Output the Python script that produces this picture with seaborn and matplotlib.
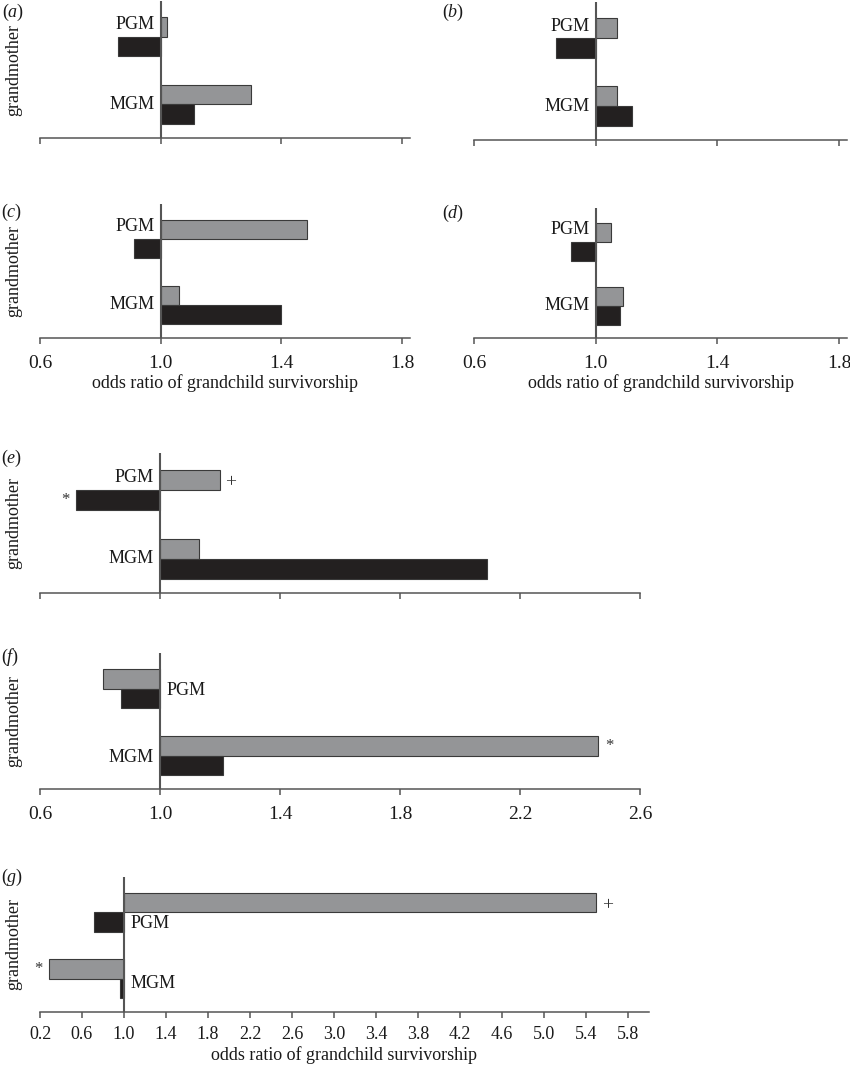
import numpy as np
import pandas as pd
import matplotlib
matplotlib.use('Agg')
import matplotlib.pyplot as plt
import seaborn as sns

sns.set_style('white')
plt.rcParams['font.family'] = ['Liberation Serif', 'DejaVu Serif']
plt.rcParams['mathtext.fontset'] = 'custom'
plt.rcParams['mathtext.rm'] = 'Liberation Serif'
plt.rcParams['mathtext.it'] = 'Liberation Serif:italic'

# categories and the two bar series (grey on top, black below)
grandmothers = ['PGM', 'MGM']
series = ['grey', 'black']
colours = {'grey': '#939598', 'black': '#231f20'}

# odds ratios, order [PGM, MGM]
a_grey, a_black = [1.02, 1.30], [0.86, 1.11]
b_grey, b_black = [1.07, 1.07], [0.87, 1.12]
c_grey, c_black = [1.485, 1.06], [0.91, 1.40]
d_grey, d_black = [1.05, 1.09], [0.92, 1.08]
e_grey, e_black = [1.20, 1.13], [0.72, 2.09]
f_grey, f_black = [0.81, 2.46], [0.87, 1.21]
g_grey, g_black = [5.50, 0.29], [0.71, 0.96]

# significance marks (grandmother, series, symbol)
e_marks = [('PGM', 'grey', '+'), ('PGM', 'black', '*')]
f_marks = [('MGM', 'grey', '*')]
g_marks = [('PGM', 'grey', '+'), ('MGM', 'grey', '*')]

ticks_short = [0.6, 1.0, 1.4, 1.8]
ticks_mid = [0.6, 1.0, 1.4, 1.8, 2.2, 2.6]
ticks_long = [0.2, 0.6, 1.0, 1.4, 1.8, 2.2, 2.6, 3.0, 3.4, 3.8, 4.2, 4.6, 5.0, 5.4, 5.8]

xlab = 'odds ratio of grandchild survivorship'
axis_col = '#555555'

W, H = 850, 1067
fig = plt.figure(figsize=(W / 100, H / 100), dpi=100)

# box = (left, top, right, bottom) in pixels; names = (side, shift down px) per grandmother
panels = [
    dict(tag='a', grey=a_grey, black=a_black, box=(40, 1, 410, 138), xlim=(0.6, 1.826),
         ticks=ticks_short, labels=False, xlabel=False, ylabel=True,
         names=[('L', -12), ('L', 0)], marks=[], tagpos=(2, 12)),
    dict(tag='b', grey=b_grey, black=b_black, box=(474, 2, 847, 140), xlim=(0.6, 1.826),
         ticks=ticks_short, labels=False, xlabel=False, ylabel=False,
         names=[('L', -12), ('L', 0)], marks=[], tagpos=(442, 12)),
    dict(tag='c', grey=c_grey, black=c_black, box=(40, 204, 410, 338), xlim=(0.6, 1.826),
         ticks=ticks_short, labels=True, xlabel=True, ylabel=True,
         names=[('L', -12), ('L', 0)], marks=[], tagpos=(1, 212)),
    dict(tag='d', grey=d_grey, black=d_black, box=(474, 208, 847, 338), xlim=(0.6, 1.826),
         ticks=ticks_short, labels=True, xlabel=True, ylabel=False,
         names=[('L', -12), ('L', 0)], marks=[], tagpos=(442, 213)),
    dict(tag='e', grey=e_grey, black=e_black, box=(40, 453, 640, 593), xlim=(0.6, 2.6),
         ticks=ticks_mid, labels=False, xlabel=False, ylabel=True,
         names=[('L', -12), ('L', 0)], marks=e_marks, tagpos=(1, 458)),
    dict(tag='f', grey=f_grey, black=f_black, box=(40, 653, 640, 789), xlim=(0.6, 2.6),
         ticks=ticks_mid, labels=True, xlabel=False, ylabel=True,
         names=[('R', 2), ('L', 2)], marks=f_marks, tagpos=(1, 657)),
    dict(tag='g', grey=g_grey, black=g_black, box=(40, 877, 649, 1012), xlim=(0.2, 6.0),
         ticks=ticks_long, labels=True, xlabel=True, ylabel=True,
         names=[('R', 11), ('R', 5)], marks=g_marks, tagpos=(1, 877)),
]

for p in panels:
    l, t, r, b = p['box']
    ax = fig.add_axes([l / W, 1 - b / H, (r - l) / W, (b - t) / H])
    df = pd.DataFrame({
        'grandmother': grandmothers * 2,
        'series': np.repeat(series, 2),
        'odds': list(p['grey']) + list(p['black']),
    })
    # bars start at an odds ratio of 1
    df['shift'] = df['odds'] - 1.0
    sns.barplot(data=df, x='shift', y='grandmother', hue='series',
                order=grandmothers, hue_order=series, palette=colours,
                orient='y', width=0.58, errorbar=None, legend=False,
                left=1.0, edgecolor='#3a3a3a', linewidth=0.8, ax=ax)
    ax.axvline(1.0, color=axis_col, lw=1.5, zorder=3)
    ax.set_xlim(*p['xlim'])
    ax.set_ylim(1.5, -0.53)
    ax.set_xticks(p['ticks'])
    ax.set_yticks([])
    for s in ['top', 'right', 'left']:
        ax.spines[s].set_visible(False)
    ax.spines['bottom'].set_color(axis_col)
    ax.spines['bottom'].set_linewidth(1.1)
    small = p['tag'] == 'g'
    ax.tick_params(axis='x', bottom=True, direction='out', length=4, width=1.1,
                   color=axis_col, pad=6 if small else 8, labelsize=13 if small else 14,
                   labelbottom=p['labels'], labelcolor='#1a1a1a')
    if p['labels']:
        ax.set_xticklabels(['%.1f' % v for v in p['ticks']])
    if p['xlabel']:
        ax.set_xlabel(xlab, fontsize=13, color='#1a1a1a', labelpad=2)
    else:
        ax.set_xlabel('')
    if p['ylabel']:
        ax.set_ylabel('grandmother', fontsize=13, color='#1a1a1a')
        ax.yaxis.set_label_coords(-18 / (r - l), 0.5)
    else:
        ax.set_ylabel('')

    for i, g in enumerate(grandmothers):
        side, dy = p['names'][i]
        dx = -6 if side == 'L' else 7
        ax.annotate(g, xy=(1.0, i), xytext=(dx * 0.72, -dy * 0.72),
                    textcoords='offset points', ha='right' if side == 'L' else 'left',
                    va='center', fontsize=13, color='#1a1a1a')

    for g, s, sym in p['marks']:
        bar = ax.patches[series.index(s) * 2 + grandmothers.index(g)]
        end = bar.get_x() + bar.get_width()
        yc = bar.get_y() + bar.get_height() / 2
        side = 1 if bar.get_width() > 0 else -1
        ax.annotate(sym, xy=(end, yc), xytext=(side * 11 * 0.72, -2 if sym == '+' else 0),
                    textcoords='offset points', ha='center', va='center',
                    fontsize=14 if sym == '+' else 12, color='#333333')

    fig.text(p['tagpos'][0] / W, 1 - p['tagpos'][1] / H, r'($\mathit{%s}$)' % p['tag'],
             ha='left', va='center', fontsize=13, color='#1a1a1a')

fig.savefig('out.png', dpi=100)
